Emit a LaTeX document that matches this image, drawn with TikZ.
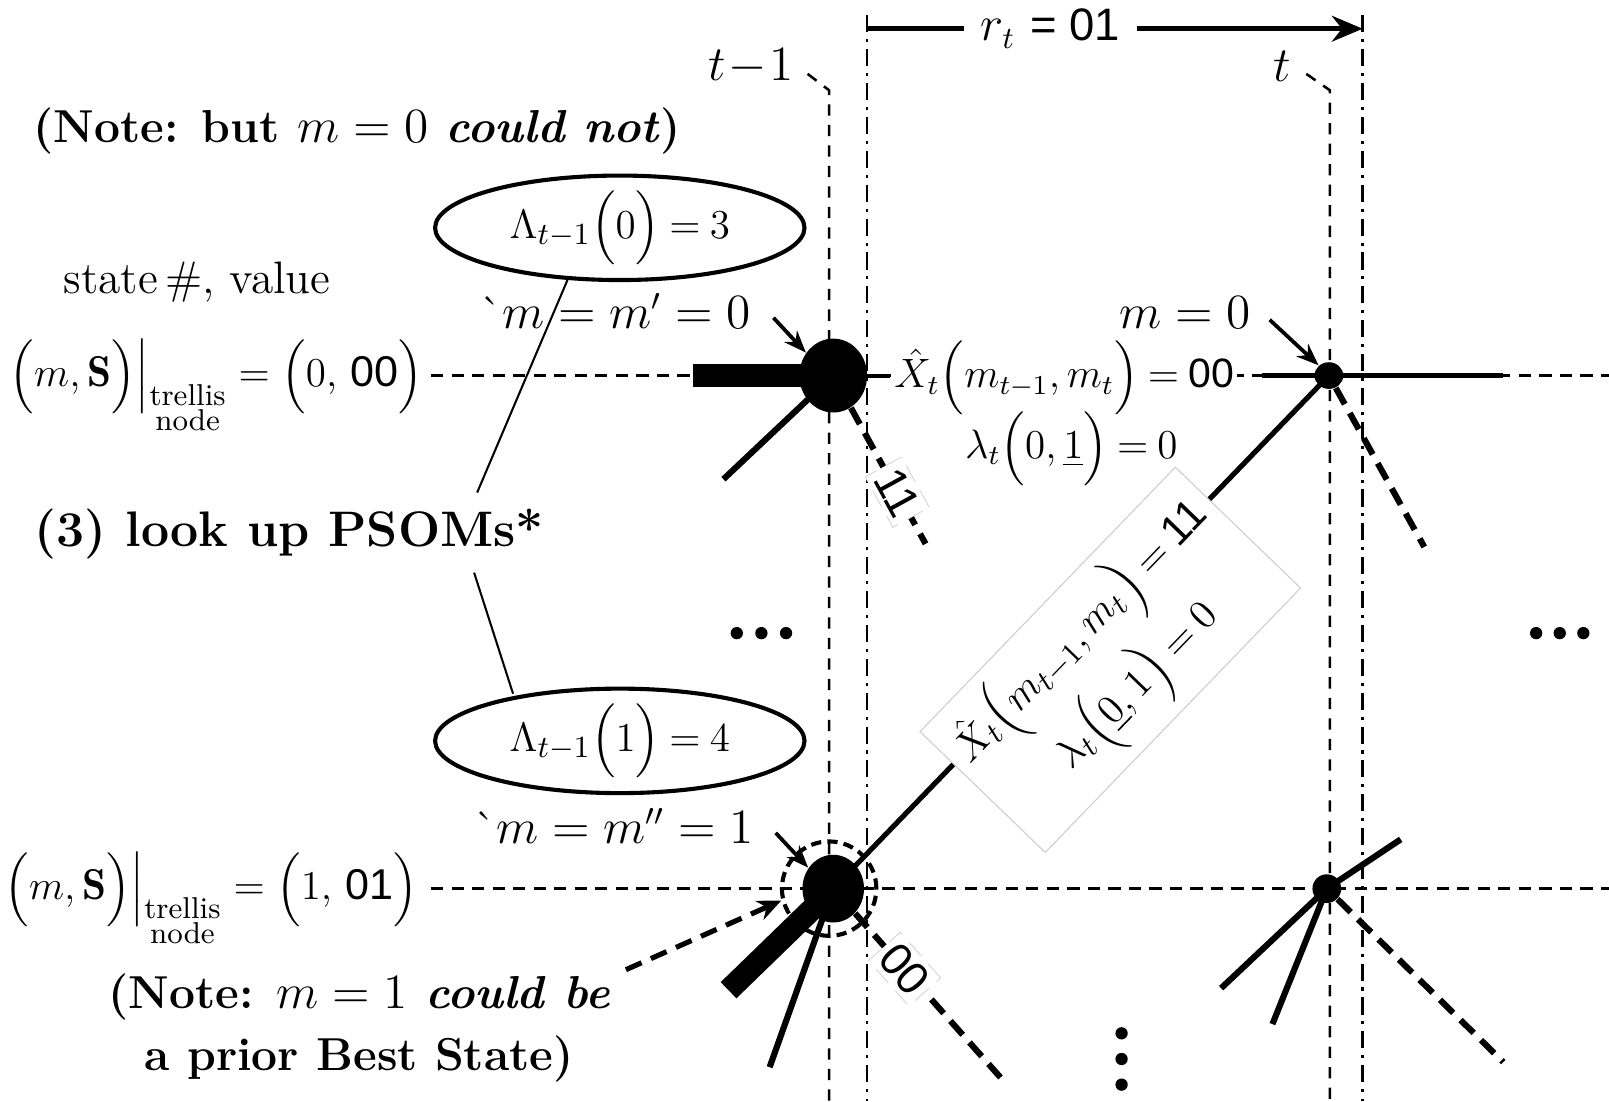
\documentclass[tikz,border=0pt]{standalone}
\usepackage{amsmath}
\usepackage{fontspec}
\newfontfamily\arialf{Liberation Sans}
\newcommand{\tightsp}{\thickmuskip=4mu plus 2mu\medmuskip=3mu\relax}
\usetikzlibrary{shapes.geometric,arrows.meta,calc}
\pgfdeclarelayer{background}
\pgfsetlayers{background,main}
\begin{document}
\begin{tikzpicture}[x=0.3pt,y=-0.3pt,
  every node/.style={font=\fontsize{13.3}{16}\selectfont},
  mathlab/.style={font=\fontsize{12}{14.5}\selectfont},
  psomtext/.style={font=\fontsize{13}{15}\selectfont},
  rowlab/.style={font=\fontsize{12.6}{15}\selectfont},
  notetext/.style={font=\fontsize{13.5}{18}\selectfont\bfseries,align=center},
  vdash/.style={line width=0.75pt,dash pattern=on 3.3pt off 2.7pt},
  vdashdot/.style={line width=0.75pt,dash pattern=on 5pt off 2pt on 0.9pt off 2pt},
  rowdash/.style={line width=0.75pt,dash pattern=on 3.6pt off 2.4pt},
  branch/.style={line width=1.8pt},
  branchdash/.style={line width=1.8pt,dash pattern=on 5.4pt off 3pt},
  bar/.style={line width=6.6pt},
  thinlink/.style={line width=0.6pt},
  bigstate/.style={ellipse,fill=black,inner sep=0pt,minimum width=19.8pt,minimum height=21.6pt},
  smallstate/.style={ellipse,fill=black,inner sep=0pt,minimum width=8.4pt,minimum height=7.8pt},
  psom/.style={ellipse,draw,line width=1.2pt,minimum width=108pt,minimum height=24pt,inner sep=0pt},
  ptr/.style={line width=1.1pt,-{Stealth[length=6.5pt,width=5pt]}},
  edgelab/.style={fill=white,draw=black!20,line width=0.2pt,inner sep=1.5pt},
]
\useasboundingbox (0,0) rectangle (1568,1073);

% time labels and guide coordinates
\node (tm1) at (732,65) {$t\!-\!1$};
\node (tl) at (1250,65) {$t$};
\coordinate (tm1k) at (787,72);
\coordinate (tm1top) at (808,88);
\coordinate (tm1bot) at (808,1073);
\coordinate (tk) at (1273,72);
\coordinate (ttop) at (1296,88);
\coordinate (tbot) at (1296,1073);
\coordinate (ddA) at (845,15);
\coordinate (ddAb) at (845,1073);
\coordinate (ddB) at (1328,15);
\coordinate (ddBb) at (1328,1073);
\coordinate (rs) at (845,28);
\coordinate (re) at (1328,28);

% notes
\node[notetext] (note0) at (348,128) {(Note: but $m = 0$ \textit{could not})};
\node[font=\fontsize{14.6}{17}\selectfont\bfseries] (psoms) at (282,520) {(3) look up PSOMs*};
\node[notetext] (note1) at (350,1002) {(Note: $m = 1$ \textit{could be}\\ a prior Best State)};
\node (sv) at (192,275) {state\,\#, value};

% row labels
\node[rowlab,anchor=base] (lab1) at (211,377) {$\Big(m,\mathbf{S}\Big)\Big|_{\substack{\text{trellis}\\ \text{node}}} = \Big(0,\,\text{\arialf 00}\Big)$};
\node[rowlab,anchor=base] (lab2) at (206,877) {$\Big(m,\mathbf{S}\Big)\Big|_{\substack{\text{trellis}\\ \text{node}}} = \Big(1,\,\text{\arialf 01}\Big)$};

% states
\node[bigstate] (n1) at (812,366) {};
\node[smallstate] (n1t) at (1295,366) {};
\node[bigstate,minimum width=18pt,minimum height=19.8pt] (n2) at (812,866) {};
\node[smallstate,minimum height=8.4pt] (n2t) at (1293,866) {};
\node[circle,draw,line width=1.2pt,dash pattern=on 3pt off 1.8pt,minimum size=27.6pt,inner sep=0pt] (ring) at (808,866) {};

% PSOM ellipses and labels
\node[psom,psomtext] (e1) at (604,222) {$\tightsp\Lambda_{t-1}\Bigl(0\Bigr) = 3$};
\node[psom,psomtext] (e2) at (604,722) {$\tightsp\Lambda_{t-1}\Bigl(1\Bigr) = 4$};
\node (mlab1) at (600,303) {\`{}$m = m' = 0$};
\node (mlab2) at (598,805) {\`{}$m = m'' = 1$};
\node (m0) at (1155,305) {$m = 0$};

% edge labels
\node[mathlab,fill=white,inner sep=1pt,anchor=base] (x00) at (1037,378) {$\tightsp\hat{X}_t\Bigl(m_{t-1},m_t\Bigr) = \text{\arialf 00}$};
\node[mathlab] (lam1) at (1044,437) {$\tightsp\lambda_t\Bigl(0,\underline{1}\Bigr) = 0$};
\node[font=\fontsize{12.6}{15.5}\selectfont,rotate=46,fill=white,draw=black!20,line width=0.3pt,minimum width=106pt,minimum height=46pt,align=center] (xlab) at (1082,643) {$\tightsp\hat{X}_t\Bigl(m_{t-1},m_t\Bigr) = \text{\arialf 11}$\\ $\tightsp\lambda_t\Bigl(\underline{0},1\Bigr) = 0$};

% coordinates for free ends
\coordinate (b1) at (675,366);
\coordinate (n1sw) at (705,467);
\coordinate (n1se) at (902,530);
\coordinate (s1) at (1230,366);
\coordinate (s2) at (1465,366);
\coordinate (n1tse) at (1388,533);
\coordinate (b2) at (710,965);
\coordinate (n2s) at (750,1040);
\coordinate (n2se) at (975,1050);
\coordinate (n2tne) at (1365,818);
\coordinate (n2tsw) at (1190,963);
\coordinate (n2tss) at (1240,998);
\coordinate (n2tse) at (1465,1035);
\coordinate (pa) at (465,480);
\coordinate (pb) at (462,558);
\coordinate (na) at (610,945);
\coordinate (r1s) at (420,366);
\coordinate (r1e) at (1568,366);
\coordinate (r2s) at (420,866);
\coordinate (r2e) at (1568,866);

\begin{pgfonlayer}{background}
\draw[vdash] (tm1k) -- (tm1top) -- (tm1bot);
\draw[vdash] (tk) -- (ttop) -- (tbot);
\draw[vdashdot] (ddA) -- (ddAb);
\draw[vdashdot] (ddB) -- (ddBb);
\draw[line width=1.5pt,-{Stealth[length=9pt,width=7.5pt]}] (rs) -- node[pos=0.37,fill=white,inner xsep=5pt] (rt) {$r_t$ {\arialf = 01}} (re);
\draw[rowdash] (r1s) -- (r1e);
\draw[rowdash] (r2s) -- (r2e);
\draw[bar] (b1) -- (n1.center);
\draw[line width=1.2pt] (n1.center) -- (n1.center -| x00.west);
\draw[line width=1.5pt] (s1) -- (s2);
\draw[branch] (n1.center) -- (n1sw);
\draw[branchdash] (n1) -- node[pos=0.62,sloped,edgelab] (l11) {\arialf 11} (n1se);
\draw[line width=1.5pt] (n2.center) -- (n1t.center);
\draw[branchdash] (n1t) -- (n1tse);
\draw[bar] (n2.center) -- (b2);
\draw[branch] (n2.center) -- (n2s);
\draw[branchdash] (n2) -- node[pos=0.34,sloped,edgelab] (l00) {\arialf 00} (n2se);
\draw[branch] (n2tne) -- (n2t.center) -- (n2tsw);
\draw[branch] (n2t.center) -- (n2tss);
\draw[branchdash] (n2t) -- (n2tse);
\draw[thinlink] (pa) -- ($(e1.south)+(-51,-2)$);
\draw[thinlink] (pb) -- ($(e2.north)+(-104,7)$);
\end{pgfonlayer}

\draw[ptr] ([xshift=3pt,yshift=-2pt]mlab1.east) -- (n1.140);
\draw[ptr] ([xshift=3pt,yshift=-2pt]mlab2.east) -- (n2.140);
\draw[ptr] ([xshift=2pt,yshift=-2pt]m0.east) -- (n1t.135);
\draw[line width=1.5pt,dash pattern=on 5pt off 3pt,-{Stealth[length=7pt,width=6pt]}] (na) -- (ring.194);

% ellipsis dots
\foreach \x in {718,742,766} \fill (\x,617) circle[radius=6];
\foreach \x in {1497,1520,1543} \fill (\x,617) circle[radius=6];
\foreach \y in {1007,1032,1057} \fill (1093,\y) circle[radius=6];
\end{tikzpicture}
\end{document}
